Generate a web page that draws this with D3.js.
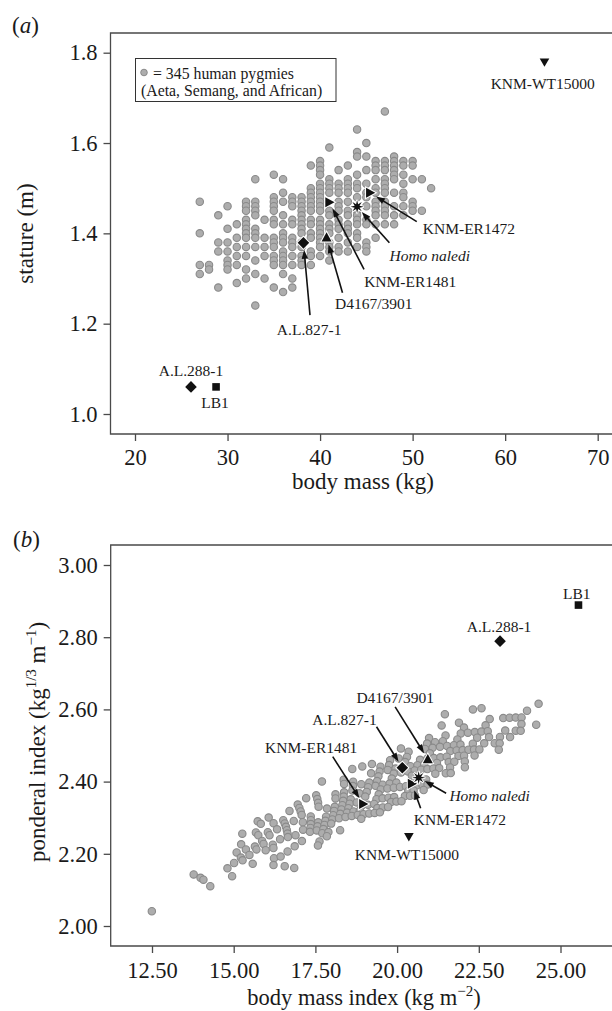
<!DOCTYPE html>
<html>
<head>
<meta charset="utf-8">
<script src="https://cdn.jsdelivr.net/npm/d3@7"></script>
<style>
  body { margin: 0; background: #fff; }
  svg text { font-family: "Liberation Serif", "Times New Roman", serif; fill: #1a1a1a; }
</style>
</head>
<body>
<svg id="fig" width="612" height="1011"></svg>
<script>
// ---- data ----

// 345 pygmies: one column per body mass (kg), statures in cm (panel a)
var pygmyMass = [27, 28, 29, 30, 31, 32, 33, 34, 35, 36, 37, 38, 39, 40, 41, 42, 43, 44, 45, 46, 47, 48, 49, 50, 51, 52];
var pygmyStature = [
  [147, 140, 133, 131],
  [133, 132],
  [144, 138, 136, 128],
  [146, 141, 138, 136, 134, 133, 132],
  [142, 139, 137, 135, 133, 129],
  [147, 146, 145, 143, 142, 141, 140, 139, 137, 135, 132, 130],
  [152, 147, 146, 145, 144, 141, 140, 139, 137, 134, 131, 124],
  [143, 139, 137, 135, 130],
  [153, 148, 147, 146, 145, 143, 142, 139, 138, 137, 135, 134, 133, 128],
  [152, 149, 147, 144, 142, 140, 139, 138, 136, 135, 134, 133, 131, 127],
  [148, 147, 146, 143, 142, 139, 138, 137, 135, 133, 130, 128],
  [148, 147, 146, 145, 144, 143, 142, 141, 140, 138, 137, 135, 134, 133],
  [155, 150, 149, 148, 147, 146, 145, 143, 142, 140, 139, 136, 135, 133],
  [156, 155, 154, 153, 151, 150, 149, 148, 147, 146, 145, 143, 142, 141, 140, 139, 138, 137, 135],
  [159, 152, 151, 150, 149, 145, 144, 142, 141, 140, 138, 137, 136, 134],
  [154, 151, 150, 149, 147, 146, 145, 143, 142, 141, 139, 137, 136],
  [155, 152, 151, 150, 149, 147, 145, 144, 142, 141, 140, 138, 136],
  [163, 158, 157, 153, 151, 150, 148, 145, 144, 143, 142, 140, 139, 137],
  [160, 157, 154, 151, 149, 148, 146, 143, 142, 138, 137, 136],
  [156, 155, 154, 152, 150, 149, 147, 146, 145, 144, 142, 139],
  [167, 156, 155, 154, 152, 151, 150, 149, 147, 146, 145, 144, 142],
  [157, 156, 155, 154, 153, 152, 149, 146, 144, 142],
  [156, 155, 153, 151, 149, 148, 146, 144],
  [156, 155, 152, 147, 146, 145],
  [152, 145],
  [150]
];

// fossil hominins
var fossilNames    = ['A.L.288-1', 'LB1', 'KNM-WT15000', 'A.L.827-1', 'D4167/3901', 'KNM-ER1481', 'KNM-ER1472', 'Homo naledi'];
var fossilShapes   = ['diamond', 'square', 'triDown', 'diamond', 'triUp', 'triRight', 'triRight', 'star'];
var fossilMass     = [26.05, 28.76, 64.25, 38.2, 40.7, 41.0, 45.4, 44.0];
var fossilStature  = [1.06, 1.06, 1.779, 1.379, 1.391, 1.469, 1.49, 1.459];
var fossilBMI      = [23.15, 25.55, 20.36, 20.16, 20.94, 18.96, 20.45, 20.66];
var fossilPonderal = [2.789, 2.889, 2.247, 2.4385, 2.462, 2.338, 2.394, 2.411];

// tick values
var massTicks = [20, 30, 40, 50, 60, 70];
var statureTicks = [1.0, 1.2, 1.4, 1.6, 1.8];
var bmiTicks = [12.5, 15, 17.5, 20, 22.5, 25];
var ponderalTicks = [2.0, 2.2, 2.4, 2.6, 2.8, 3.0];

// label anchors in data units: [label, x, y, anchor, arrow tail or null]
var notesA = [
  ['A.L.288-1', 26.05, 1.096, 'middle', null],
  ['LB1', 28.65, 1.025, 'middle', null],
  ['KNM-WT15000', 64.06, 1.731, 'middle', null],
  ['A.L.827-1', 38.82, 1.186, 'middle', [38.91, 1.219]],
  ['D4167/3901', 45.8, 1.2436, 'middle', [42.42, 1.2686]],
  ['KNM-ER1481', 49.74, 1.293, 'middle', [44.75, 1.320]],
  ['KNM-ER1472', 56.08, 1.411, 'middle', [50.45, 1.426]],
  ['Homo naledi', 51.85, 1.35, 'middle', [47.49, 1.379]]
];
var notesB = [
  ['A.L.288-1', 23.12, 2.829, 'middle', null],
  ['LB1', 25.5, 2.922, 'middle', null],
  ['KNM-WT15000', 20.30, 2.197, 'middle', null],
  ['A.L.827-1', 18.39, 2.573, 'middle', [19.37, 2.552]],
  ['D4167/3901', 19.94, 2.634, 'middle', [19.94, 2.607]],
  ['KNM-ER1481', 17.37, 2.495, 'middle', [18.03, 2.469]],
  ['KNM-ER1472', 21.92, 2.295, 'middle', [20.72, 2.326]],
  ['Homo naledi', 21.60, 2.360, 'start', [21.50, 2.3676]]
];

// ---- layout ----
var W = 612;
var serif = '"Liberation Serif", "Times New Roman", serif';
var ink = '#1a1a1a', axisInk = '#4a4a4a';
var dotFill = '#adadad', dotStroke = '#8a8a8a';

var svg = d3.select('#fig');

var xA = d3.scaleLinear().domain([20, 70]).range([135, 597.7]);
var yA = d3.scaleLinear().domain([1.0, 1.8]).range([414, 52.7]);
var xB = d3.scaleLinear().domain([12.5, 25]).range([152, 560.5]);
var yB = d3.scaleLinear().domain([2.0, 3.0]).range([926, 565]);

// flatten pygmy columns; panel (b) plots the same people as BMI and ponderal index
var pygmies = [];
pygmyMass.forEach(function(m, i) {
  pygmyStature[i].forEach(function(cm) {
    var s = cm / 100;
    pygmies.push({mass: m, stature: s, bmi: m / (s * s), ponderal: Math.cbrt(m) / s});
  });
});

var fossils = fossilNames.map(function(n, i) {
  return {name: n, shape: fossilShapes[i], mass: fossilMass[i], stature: fossilStature[i],
          bmi: fossilBMI[i], ponderal: fossilPonderal[i]};
});

// marker shapes (pixels)
function shapePath(kind) {
  if (kind == 'diamond') return 'M0,-5.8L5.8,0L0,5.8L-5.8,0Z';
  if (kind == 'square') return 'M-3.8,-3.8H3.8V3.8H-3.8Z';
  if (kind == 'triDown') return 'M-4.8,-3.8H4.8L0,4.6Z';
  if (kind == 'triUp') return 'M0,-5.2L5,4H-5Z';
  if (kind == 'triRight') return 'M-4,-5L5.2,0L-4,5Z';
  // star burst
  var pts = [];
  for (var k = 0; k < 16; k++) {
    var r = k % 2 == 0 ? 6.6 : 2.6;
    var a = k * Math.PI / 8 - Math.PI / 2;
    pts.push([r * Math.cos(a), r * Math.sin(a)]);
  }
  return 'M' + pts.map(function(p) { return p[0].toFixed(2) + ',' + p[1].toFixed(2); }).join('L') + 'Z';
}

function frame(left, top, bottom) {
  svg.append('path')
    .attr('d', 'M' + (W + 3) + ',' + top + 'H' + left + 'V' + bottom + 'H' + (W + 3))
    .attr('fill', 'none')
    .attr('stroke', axisInk)
    .attr('stroke-width', 1.3);
}

function styleAxis(g) {
  g.select('.domain').remove();
  g.attr('font-family', serif).attr('font-size', 22.5);
  g.selectAll('line').attr('stroke', axisInk).attr('stroke-width', 1.3);
  g.selectAll('text').attr('fill', ink);
}

function arrow(x1, y1, x2, y2) {
  // tail (x1,y1) -> tip (x2,y2)
  var dx = x2 - x1, dy = y2 - y1, len = Math.sqrt(dx * dx + dy * dy);
  var ux = dx / len, uy = dy / len, head = 9, half = 3.2;
  var bx = x2 - ux * head, by = y2 - uy * head;
  svg.append('line')
    .attr('x1', x1).attr('y1', y1).attr('x2', bx + ux * 1).attr('y2', by + uy * 1)
    .attr('stroke', '#111').attr('stroke-width', 1.6);
  svg.append('path')
    .attr('d', 'M' + x2 + ',' + y2 + 'L' + (bx - uy * half) + ',' + (by + ux * half) +
               'L' + (bx + uy * half) + ',' + (by - ux * half) + 'Z')
    .attr('fill', '#111');
}

function drawPanel(xs, ys, xKey, yKey, notes) {
  svg.append('g').selectAll('circle')
    .data(pygmies)
    .enter().append('circle')
    .attr('cx', function(d) { return xs(d[xKey]); })
    .attr('cy', function(d) { return ys(d[yKey]); })
    .attr('r', 3.7)
    .attr('fill', dotFill)
    .attr('stroke', dotStroke)
    .attr('stroke-width', 1.1);

  svg.append('g').selectAll('path')
    .data(fossils)
    .enter().append('path')
    .attr('d', function(d) { return shapePath(d.shape); })
    .attr('transform', function(d) { return 'translate(' + xs(d[xKey]) + ',' + ys(d[yKey]) + ')'; })
    .attr('fill', '#111')
    .attr('stroke', '#fff')
    .attr('stroke-width', 2)
    .style('paint-order', 'stroke');

  notes.forEach(function(n) {
    var f = fossils.filter(function(d) { return d.name == n[0]; })[0];
    if (n[4]) {
      var tx = xs(n[4][0]), ty = ys(n[4][1]);
      var mx = xs(f[xKey]), my = ys(f[yKey]);
      var dx = tx - mx, dy = ty - my, len = Math.sqrt(dx * dx + dy * dy);
      arrow(tx, ty, mx + dx / len * 7, my + dy / len * 7);
    }
    svg.append('text')
      .attr('x', xs(n[1]))
      .attr('y', ys(n[2]))
      .attr('dy', '0.35em')
      .attr('text-anchor', n[3])
      .attr('font-size', 15.5)
      .style('font-style', n[0] == 'Homo naledi' ? 'italic' : 'normal')
      .text(n[0]);
  });
}

// ---- panel (a) ----
frame(110.5, 33, 434);
svg.append('g').attr('transform', 'translate(0,434)')
  .call(d3.axisBottom(xA).tickValues(massTicks).tickSize(7).tickPadding(8).tickFormat(d3.format('d')))
  .call(styleAxis);
svg.append('g').attr('transform', 'translate(110.5,0)')
  .call(d3.axisLeft(yA).tickValues(statureTicks).tickSize(7).tickPadding(6).tickFormat(d3.format('.1f')))
  .call(styleAxis);

// legend
svg.append('rect').attr('x', 135.5).attr('y', 58.5).attr('width', 200.5).attr('height', 43)
  .attr('fill', '#fff').attr('stroke', '#333').attr('stroke-width', 1);
svg.append('circle').attr('cx', 144).attr('cy', 72.5).attr('r', 3.3)
  .attr('fill', dotFill).attr('stroke', dotStroke).attr('stroke-width', 1);
svg.append('text').attr('x', 153).attr('y', 78.5).attr('font-size', 15.8).text('= 345 human pygmies');
svg.append('text').attr('x', 141).attr('y', 96).attr('font-size', 15.8).text('(Aeta, Semang, and African)');

drawPanel(xA, yA, 'mass', 'stature', notesA);

var la = svg.append('text').attr('x', 12).attr('y', 33).attr('font-size', 23);
la.append('tspan').text('(');
la.append('tspan').style('font-style', 'italic').text('a');
la.append('tspan').text(')');

svg.append('text').attr('x', 363).attr('y', 489).attr('text-anchor', 'middle').attr('font-size', 23)
  .text('body mass (kg)');
svg.append('text').attr('transform', 'translate(33,233.5) rotate(-90)').attr('text-anchor', 'middle')
  .attr('font-size', 23).text('stature (m)');

// ---- panel (b) ----
frame(110.7, 545, 946);
svg.append('g').attr('transform', 'translate(0,946)')
  .call(d3.axisBottom(xB).tickValues(bmiTicks).tickSize(7).tickPadding(9).tickFormat(d3.format('.2f')))
  .call(styleAxis);
svg.append('g').attr('transform', 'translate(110.7,0)')
  .call(d3.axisLeft(yB).tickValues(ponderalTicks).tickSize(7).tickPadding(6).tickFormat(d3.format('.2f')))
  .call(styleAxis);

drawPanel(xB, yB, 'bmi', 'ponderal', notesB);

var lb = svg.append('text').attr('x', 13).attr('y', 547).attr('font-size', 23);
lb.append('tspan').text('(');
lb.append('tspan').style('font-style', 'italic').text('b');
lb.append('tspan').text(')');

var tb = svg.append('text').attr('x', 364).attr('y', 1005).attr('text-anchor', 'middle').attr('font-size', 22.5);
tb.append('tspan').text('body mass index (kg m');
tb.append('tspan').attr('dy', -9).attr('font-size', 15).text('\u22122');
tb.append('tspan').attr('dy', 9).text(')');

var tp = svg.append('text').attr('transform', 'translate(45,742) rotate(-90)').attr('text-anchor', 'middle')
  .attr('font-size', 23);
tp.append('tspan').text('ponderal index (kg');
tp.append('tspan').attr('dy', -9).attr('font-size', 15).text('1/3');
tp.append('tspan').attr('dy', 9).text(' m');
tp.append('tspan').attr('dy', -9).attr('font-size', 15).text('\u22121');
tp.append('tspan').attr('dy', 9).text(')');
</script>
</body>
</html>
